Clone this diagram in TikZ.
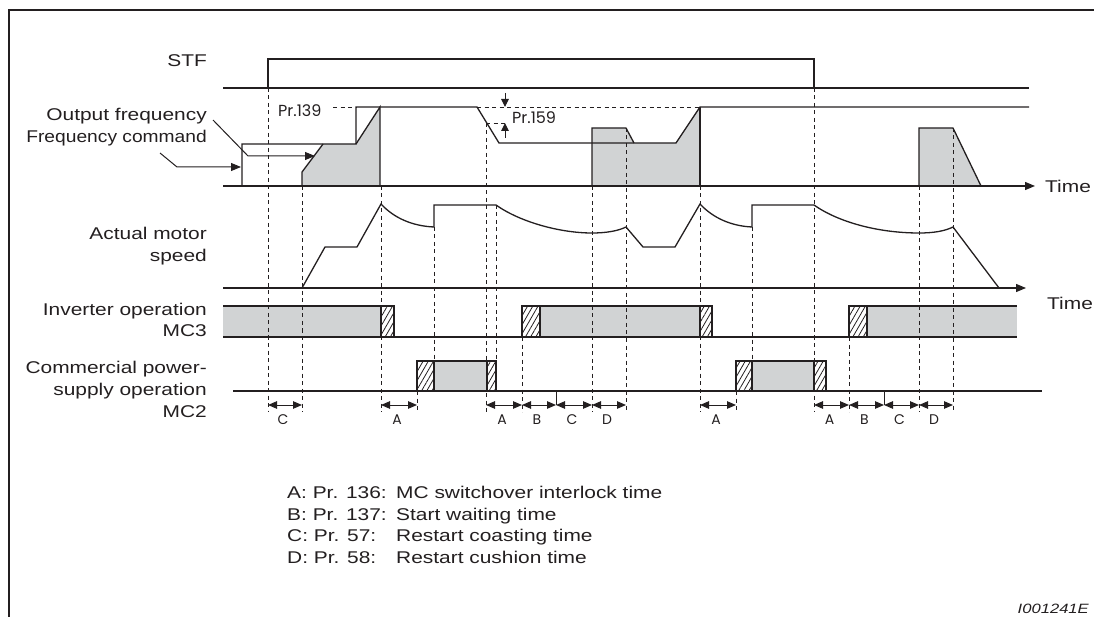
\documentclass[tikz,border=0pt]{standalone}
\usepackage{fontspec}
\usetikzlibrary{arrows.meta,patterns.meta}
\newfontfamily\lab{Liberation Sans}[FakeStretch=1.23]
\newfontfamily\labn{Liberation Sans}[FakeStretch=1.13]
\newfontfamily\geo{Poppins}
\definecolor{ink}{RGB}{35,31,32}
\definecolor{barfill}{RGB}{209,211,212}
\begin{document}
\begin{tikzpicture}[x=1pt,y=-1pt,
  ln/.style={line width=1.3pt, draw=ink, line join=miter},
  dsh/.style={line width=0.9pt, draw=ink, dash pattern=on 4pt off 3.5pt},
  hatch/.style={pattern={Lines[angle=60,distance=4.5pt,line width=0.8pt]}, pattern color=ink},
  tri/.tip={Triangle[length=9pt,width=7.5pt]},
  dim/.style={line width=1pt, draw=ink, tri-tri},
  lbl/.style={inner sep=0pt, anchor=base east, text=ink, font=\lab\fontsize{17}{20}\selectfont},
  leg/.style={inner sep=0pt, anchor=base west, text=ink, font=\lab\fontsize{17}{20}\selectfont},
  letter/.style={inner sep=0pt, anchor=base, text=ink, font=\geo\fontsize{14}{15}\selectfont},
  prl/.style={inner sep=0pt, anchor=base west, text=ink, font=\geo\fontsize{16}{17}\selectfont}]
\useasboundingbox (0,0) rectangle (1094,617);

% frame
\draw[line width=2.5pt, ink] (1094,10) -- (9,10) -- (9,617);

% ---------- fills ----------
\fill[barfill] (302,186) -- (302,172) -- (323,144) -- (356,144) -- (380,107) -- (380,186) -- cycle;
\fill[barfill] (592,186) -- (592,128) -- (626,128) -- (634,143) -- (676,143) -- (700,107) -- (700,186) -- cycle;
\fill[barfill] (919,186) -- (919,128) -- (953,128) -- (981,186) -- cycle;
% inverter bars
\fill[barfill] (223,306) rectangle (381,337);
\fill[barfill] (540,306) rectangle (700,337);
\fill[barfill] (867,306) rectangle (1017,337);
\foreach \a/\b in {381/394, 522/540, 700/712, 849/867}
  \draw[ln, hatch] (\a,337) -- (\a,306) -- (\b,306) -- (\b,337);
% commercial bars
\fill[barfill] (434,361) rectangle (487,391);
\fill[barfill] (752,361) rectangle (814,391);
\foreach \a/\b in {417/434, 487/496, 736/752, 814/826}
  \draw[ln, hatch] (\a,391) -- (\a,361) -- (\b,361) -- (\b,391);

% ---------- dashed guide lines ----------
\foreach \x/\t/\b in {268/88/412, 302/186/412, 381/186/412, 417/391/412, 434/227/361,
    486/123/412, 496/205/361, 522/337/412, 592/186/412, 626/128/412, 700/186/412,
    736/391/412, 752/227/361, 814/88/412, 849/337/412, 919/186/412, 953/128/412}
  \draw[dsh] (\x,\t) -- (\x,\b);
\draw[dsh] (333,107) -- (356,107);
\draw[dsh] (477,107) -- (700,107);
\draw[dsh] (486,123) -- (505,123);

% ---------- STF ----------
\draw[ln] (223,88) -- (1029,88);
\draw[ln] (268,88) -- (268,59) -- (814,59) -- (814,88);

% ---------- frequency ----------
\draw[ln] (242,186) -- (242,144) -- (356,144) -- (356,107) -- (477,107) -- (499,143) -- (676,143) -- (700,107) -- (1029,107);
\draw[ln] (302,186) -- (302,172) -- (323,144);
\draw[ln] (356,144) -- (380,107) -- (380,186);
\draw[ln] (592,186) -- (592,128) -- (626,128) -- (634,143);
\draw[ln] (700,107) -- (700,186);
\draw[ln] (919,186) -- (919,128) -- (953,128) -- (981,186);
\draw[ln, -{Triangle[length=10pt,width=8pt]}] (223,186) -- (1035,186);

% Pr.159 dimension
\draw[line width=1pt, ink, -{Triangle[length=8pt,width=7.5pt]}] (505,93) -- (505,107);
\draw[line width=1pt, ink, -{Triangle[length=8pt,width=7.5pt]}] (505,138) -- (505,123);
\node[prl] (p139) at (278,117) {Pr.139};
\node[prl] (p159) at (512,124) {Pr.159};

% ---------- motor speed ----------
\draw[ln] (302,288) -- (325,247) -- (357,247) -- (381,204)
  .. controls (394,218) and (412,226) .. (434,227) -- (434,205) -- (496,205)
  .. controls (520,222) and (560,233) .. (592,233)
  .. controls (606,233) and (618,231) .. (626,227) -- (643,247) -- (675,247) -- (700,204)
  .. controls (713,218) and (731,226) .. (752,227) -- (752,205) -- (814,205)
  .. controls (838,222) and (878,233) .. (919,233)
  .. controls (934,233) and (945,231) .. (953,227) -- (999,288);
\draw[ln, -{Triangle[length=10pt,width=8pt]}] (223,288) -- (1026,288);

% ---------- bar outlines ----------
\draw[ln] (223,306) -- (381,306);
\draw[ln] (540,306) -- (700,306);
\draw[ln] (867,306) -- (1017,306);
\draw[ln] (223,337) -- (1017,337);
\draw[ln] (434,361) -- (487,361);
\draw[ln] (752,361) -- (814,361);
\draw[ln] (233,391) -- (1042,391);
\draw[line width=1pt, ink] (556,391) -- (556,405);
\draw[line width=1pt, ink] (884,391) -- (884,405);

% ---------- interval arrows ----------
\foreach \a/\b/\t in {268/302/C, 381/417/A, 486/522/A, 522/556/B, 556/592/C, 592/626/D,
    700/736/A, 814/849/A, 849/884/B, 884/919/C, 919/953/D} {
  \draw[dim] (\a,405) -- (\b,405);
  \node[letter] (L\a) at ({(\a+\b)/2-2},424) {\t};
}

% ---------- labels ----------
\node[lbl] (stf) at (207,67) {STF};
\node[lbl] (of) at (207,121) {Output frequency};
\node[lbl, font=\labn\fontsize{17}{20}\selectfont] (fc) at (207,143) {Frequency command};
\node[lbl] (ams1) at (207,240) {Actual motor};
\node[lbl] (ams2) at (207,262) {speed};
\node[lbl] (io) at (207,316) {Inverter operation};
\node[lbl] (mc3) at (207,337) {MC3};
\node[lbl] (cp1) at (207,373) {Commercial power-};
\node[lbl] (cp2) at (207,395) {supply operation};
\node[lbl] (mc2) at (207,417) {MC2};
\node[leg] (t1) at (1045,193) {Time};
\node[leg] (t2) at (1047,309) {Time};

% leaders
\coordinate (ofa) at (213,120);
\coordinate (ofb) at (248,156);
\coordinate (oft) at (315,156);
\draw[line width=1pt, ink, -{Triangle[length=10pt,width=8pt]}] (ofa) -- (ofb) -- (oft);
\coordinate (fca) at (160,153);
\coordinate (fcb) at (177,167);
\coordinate (fct) at (241,167);
\draw[line width=1pt, ink, -{Triangle[length=10pt,width=8pt]}] (fca) -- (fcb) -- (fct);

% legend
\node[leg] (la) at (287,498) {A: Pr. 136:};
\node[leg] (lb) at (287,520) {B: Pr. 137:};
\node[leg] (lc) at (287,541) {C: Pr. 57:};
\node[leg] (ld) at (287,563) {D: Pr. 58:};
\node[leg] (ra) at (396,498) {MC switchover interlock time};
\node[leg] (rb) at (396,520) {Start waiting time};
\node[leg] (rc) at (396,541) {Restart coasting time};
\node[leg] (rd) at (396,563) {Restart cushion time};

\node[inner sep=0pt, anchor=base east, text=ink, font=\lab\fontsize{13.5}{15}\selectfont\itshape] (id) at (1089,613) {I001241E};
\end{tikzpicture}
\end{document}
